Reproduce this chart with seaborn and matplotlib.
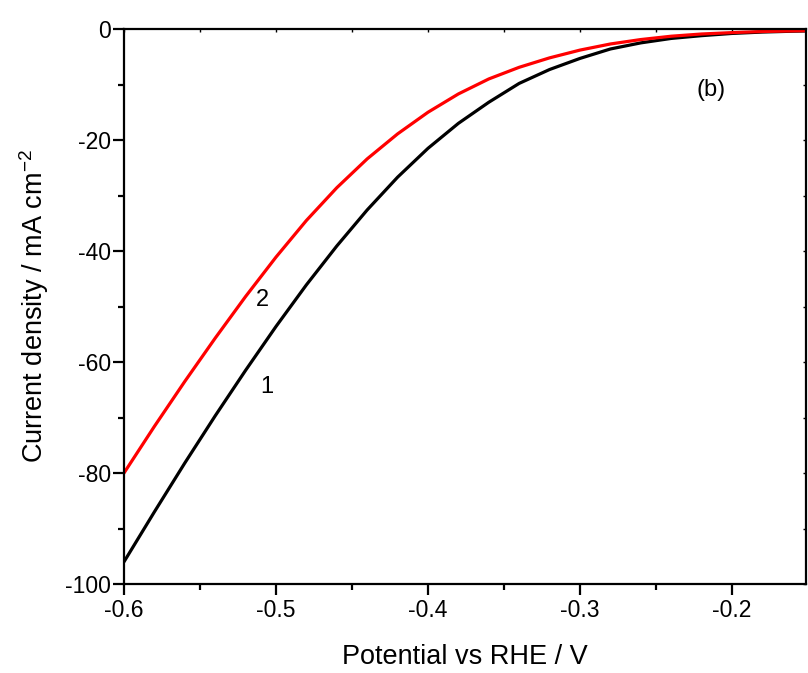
import numpy as np
import pandas as pd
import matplotlib
matplotlib.use('Agg')
import matplotlib.pyplot as plt
import seaborn as sns
from matplotlib.ticker import MultipleLocator

# potential (V vs RHE) and current density (mA cm-2)
potential = [-0.60, -0.58, -0.56, -0.54, -0.52, -0.50, -0.48, -0.46, -0.44, -0.42,
             -0.40, -0.38, -0.36, -0.34, -0.32, -0.30, -0.28, -0.26, -0.24, -0.22,
             -0.20, -0.18, -0.16, -0.15]
curve1 = [-96.0, -87.0, -78.2, -69.7, -61.5, -53.6, -46.1, -39.1, -32.6, -26.7,
          -21.5, -17.0, -13.2, -9.8, -7.3, -5.3, -3.6, -2.5, -1.7, -1.2,
          -0.8, -0.55, -0.4, -0.35]
curve2 = [-80.0, -71.6, -63.5, -55.7, -48.2, -41.1, -34.5, -28.6, -23.4, -18.9,
          -15.0, -11.7, -9.0, -6.9, -5.2, -3.8, -2.7, -1.9, -1.3, -0.9,
          -0.65, -0.45, -0.35, -0.3]
labels = ['1', '2']

df = pd.DataFrame({'E': potential, 'j1': curve1, 'j2': curve2})

sns.set_style('ticks')
plt.rcParams['font.family'] = ['Liberation Sans', 'DejaVu Sans']
plt.rcParams['text.color'] = 'black'
plt.rcParams['axes.labelcolor'] = 'black'
plt.rcParams['mathtext.fontset'] = 'custom'
plt.rcParams['mathtext.rm'] = 'Liberation Sans'

fig = plt.figure(figsize=(8.08, 6.73), dpi=100)
ax = fig.add_axes([124/808, 1-584/673, (806-124)/808, (584-29)/673])

sns.lineplot(data=df, x='E', y='j1', color='black', lw=2.3, ax=ax)
sns.lineplot(data=df, x='E', y='j2', color='red', lw=2.3, ax=ax)

ax.set_xlim(-0.6, -0.1513)
ax.set_ylim(-100, 0)
ax.xaxis.set_major_locator(MultipleLocator(0.1))
ax.xaxis.set_minor_locator(MultipleLocator(0.05))
ax.yaxis.set_major_locator(MultipleLocator(20))
ax.yaxis.set_minor_locator(MultipleLocator(10))
ax.xaxis.set_major_formatter(plt.FuncFormatter(lambda v, p: f'{v:.1f}'))
ax.yaxis.set_major_formatter(plt.FuncFormatter(lambda v, p: f'{v:.0f}'))

for s in ax.spines.values():
    s.set_linewidth(1.6)
    s.set_color('black')
ax.tick_params(which='major', direction='out', length=8, width=1.6, labelsize=16.5,
               colors='black')
ax.tick_params(which='minor', direction='out', length=4.5, width=1.6, colors='black')
ax.tick_params(axis='y', which='major', pad=1.5)
ax.tick_params(axis='x', which='major', pad=3)

ax.set_xlabel('Potential vs RHE / V', fontsize=19.5, labelpad=16)
ax.set_ylabel('Current density / mA cm$^{\\mathrm{-2}}$', fontsize=19.5, labelpad=10)

# tiny inward marks on top/right axes
secx = ax.secondary_xaxis('top')
secx.xaxis.set_major_locator(MultipleLocator(0.05))
secx.tick_params(direction='in', length=2, width=1, labeltop=False, colors='black')
secx.spines['top'].set_visible(False)
secy = ax.secondary_yaxis('right')
secy.yaxis.set_major_locator(MultipleLocator(10))
secy.tick_params(direction='in', length=2, width=1, labelright=False, colors='black')
secy.spines['right'].set_visible(False)

ax.text(-0.5092, -48.8, labels[1], fontsize=17, ha='center', va='center')
ax.text(-0.5059, -64.5, labels[0], fontsize=17, ha='center', va='center')
ax.text(-0.2138, -11, '(b)', fontsize=17, ha='center', va='center')

fig.savefig('out.png', dpi=100)
